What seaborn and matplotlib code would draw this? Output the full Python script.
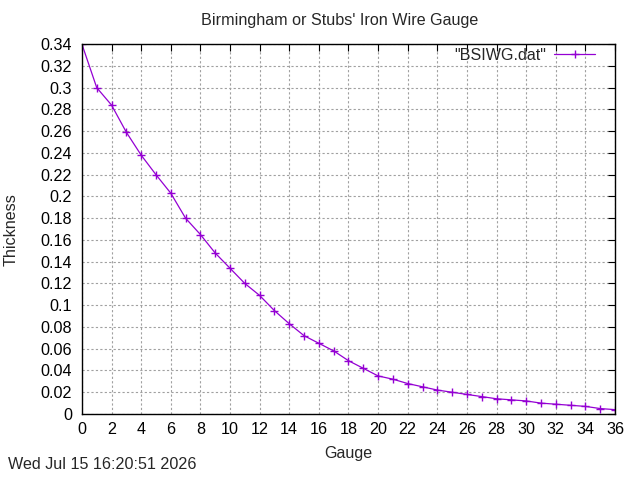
import numpy as np
import pandas as pd
import matplotlib
matplotlib.use('Agg')
import matplotlib.pyplot as plt
import seaborn as sns
from matplotlib.ticker import FuncFormatter, MultipleLocator

gauge = list(range(0, 37))
thickness = [0.340, 0.300, 0.284, 0.259, 0.238, 0.220, 0.203, 0.180, 0.165,
             0.148, 0.134, 0.120, 0.109, 0.095, 0.083, 0.072, 0.065, 0.058,
             0.049, 0.042, 0.035, 0.032, 0.028, 0.025, 0.022, 0.020, 0.018,
             0.016, 0.014, 0.013, 0.012, 0.010, 0.009, 0.008, 0.007, 0.005,
             0.004]

df = pd.DataFrame({'Gauge': gauge, 'Thickness': thickness})

sns.set_style('white')
plt.rcParams['font.family'] = ['Liberation Sans', 'DejaVu Sans']
fs = 11.6

fig = plt.figure(figsize=(6.4, 4.8), dpi=100)
ax = fig.add_axes([0.128, 0.1375, 0.833, 0.7705])

sns.lineplot(data=df, x='Gauge', y='Thickness', ax=ax, color='#9400d3',
             linewidth=0.9, marker='+', markersize=6, markeredgewidth=1,
             markeredgecolor='#9400d3', label='"BSIWG.dat"')

ax.set_xlim(0, 36)
ax.set_ylim(0, 0.34)
ax.xaxis.set_major_locator(MultipleLocator(2))
ax.yaxis.set_major_locator(MultipleLocator(0.02))
ax.yaxis.set_major_formatter(FuncFormatter(lambda v, p: '%g' % round(v, 4)))
ax.tick_params(direction='in', length=5, width=0.8, top=True, right=True,
               labelsize=fs, colors='black')
ax.tick_params(axis='x', pad=6)
ax.tick_params(axis='y', pad=7)
ax.grid(True, color='#a0a0a0', linestyle=(0, (2, 2)), linewidth=0.8)
for s in ax.spines.values():
    s.set_color('black')
    s.set_linewidth(1)

fig.text(0.53, 0.958, "Birmingham or Stubs' Iron Wire Gauge", fontsize=fs,
         ha='center', va='center')
ax.set_xlabel('Gauge', fontsize=fs)
ax.set_ylabel('Thickness', fontsize=fs)
ax.xaxis.set_label_coords(0.5, -0.087)
ax.yaxis.set_label_coords(-0.118, 0.5)

leg = ax.legend(loc='upper right', frameon=False, markerfirst=False,
                fontsize=fs, handlelength=2.55, handletextpad=0.5,
                borderpad=0, borderaxespad=0,
                bbox_to_anchor=(0.9625, 0.99))

fig.text(0.0125, 0.022, 'Wed Jul 15 16:20:51 2026', fontsize=fs)

fig.savefig('out.png', dpi=100)
